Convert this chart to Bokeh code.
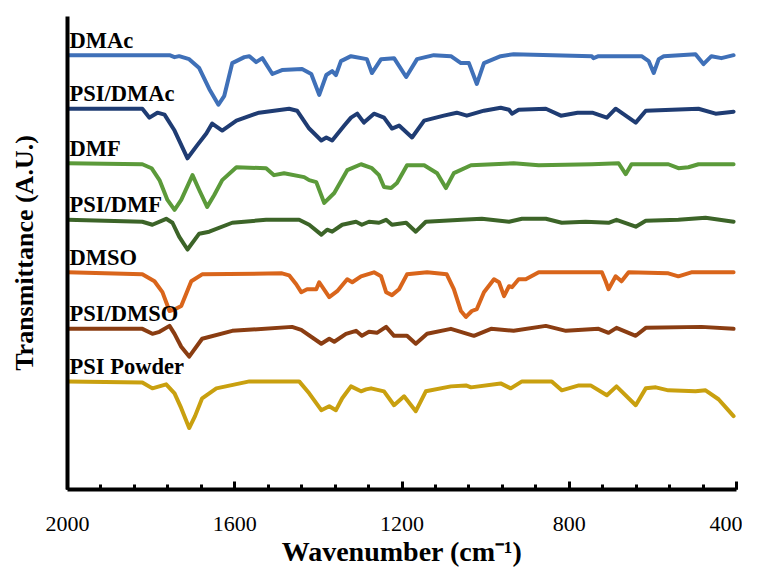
from bokeh.plotting import figure
from bokeh.models import Range1d, SingleIntervalTicker, FixedTicker, ColumnDataSource
from bokeh.core.properties import value
from bokeh.embed import file_html
from bokeh.resources import INLINE

# ---- data (wavenumber cm-1, transmittance in arbitrary units, offset stacked) ----
names = ["DMAc", "PSI/DMAc", "DMF", "PSI/DMF", "DMSO", "PSI/DMSO", "PSI Powder"]
colors = ["#3F70B8", "#1F3C73", "#5B9A3A", "#3C6428", "#D9651B", "#8A3D12", "#C9A00F"]

dmac_w = [2000, 1756, 1744, 1733, 1709, 1685, 1661, 1639, 1625, 1606, 1577, 1565, 1549, 1534, 1510, 1487, 1439, 1417, 1398, 1381, 1367, 1358, 1346, 1322, 1284, 1272, 1250, 1219, 1190, 1164, 1124, 1083, 1059, 1040, 1021, 1004, 964, 933, 746, 742, 730, 627, 610, 598, 586, 574, 498, 479, 460, 436, 407]
dmac_t = [438, 438, 436, 437, 434, 425, 404, 388, 397, 430, 436, 437, 431, 435, 419, 423, 424, 419, 398, 418, 422, 418, 432, 437, 434, 420, 434, 435, 416, 434, 438, 437, 430, 430, 409, 430, 437, 439, 437, 435, 437, 437, 432, 420, 434, 437, 439, 429, 437, 435, 438]

psidmac_w = [2000, 1821, 1804, 1785, 1768, 1744, 1713, 1690, 1668, 1654, 1630, 1596, 1542, 1470, 1451, 1422, 1393, 1381, 1367, 1338, 1322, 1307, 1291, 1267, 1243, 1224, 1207, 1176, 1147, 1100, 1069, 1045, 1004, 964, 944, 937, 921, 856, 820, 780, 745, 710, 689, 641, 617, 491, 450, 407]
psidmac_t = [384, 384, 375, 380, 378, 362, 334, 347, 359, 369, 362, 372, 380, 384, 382, 364, 352, 355, 352, 367, 375, 379, 370, 379, 375, 364, 367, 355, 372, 377, 380, 377, 382, 385, 383, 379, 383, 384, 377, 380, 380, 375, 384, 370, 382, 384, 379, 381]

dmf_w = [2000, 1821, 1799, 1780, 1761, 1744, 1728, 1701, 1685, 1666, 1649, 1630, 1596, 1525, 1506, 1482, 1434, 1422, 1405, 1386, 1362, 1331, 1298, 1272, 1255, 1243, 1226, 1212, 1188, 1147, 1116, 1095, 1076, 1035, 933, 873, 746, 682, 665, 651, 563, 539, 515, 491, 407]
dmf_t = [329, 328, 324, 312, 292, 282, 292, 317, 302, 285, 297, 312, 325, 324, 317, 319, 315, 312, 310, 289, 299, 322, 328, 324, 317, 305, 304, 309, 327, 327, 319, 304, 319, 327, 329, 327, 328, 329, 318, 328, 328, 324, 325, 328, 328]

psidmf_w = [2000, 1821, 1797, 1764, 1749, 1733, 1713, 1685, 1661, 1606, 1525, 1446, 1422, 1393, 1379, 1367, 1343, 1310, 1296, 1279, 1255, 1238, 1224, 1190, 1167, 1143, 1057, 1009, 944, 913, 856, 818, 761, 706, 687, 641, 617, 539, 474, 407]
psidmf_t = [272, 270, 267, 273, 269, 255, 242, 258, 260, 269, 272, 272, 267, 257, 262, 260, 267, 270, 267, 270, 269, 272, 267, 269, 260, 270, 272, 273, 270, 273, 273, 269, 270, 269, 272, 265, 271, 272, 274, 270]

dmso_w = [2000, 1821, 1792, 1773, 1756, 1742, 1728, 1704, 1678, 1487, 1470, 1453, 1441, 1427, 1405, 1398, 1374, 1355, 1331, 1319, 1298, 1267, 1250, 1238, 1224, 1207, 1188, 1140, 1093, 1076, 1059, 1047, 1033, 1021, 1004, 980, 968, 956, 944, 937, 921, 904, 873, 722, 713, 706, 689, 675, 658, 563, 539, 508, 407]
dmso_t = [219, 217, 210, 199, 180, 182, 185, 210, 217, 218, 216, 207, 199, 202, 202, 209, 194, 200, 212, 209, 215, 219, 215, 199, 196, 202, 217, 219, 217, 202, 180, 174, 180, 182, 199, 212, 209, 195, 205, 204, 212, 212, 219, 219, 210, 202, 215, 210, 219, 218, 215, 219, 219]

psidmso_w = [2000, 1821, 1797, 1780, 1756, 1744, 1728, 1709, 1678, 1606, 1463, 1441, 1393, 1374, 1362, 1334, 1310, 1296, 1279, 1260, 1238, 1219, 1188, 1167, 1140, 1083, 1028, 987, 933, 856, 808, 730, 706, 687, 641, 617, 484, 407]
psidmso_t = [162, 162, 157, 159, 165, 157, 144, 134, 152, 160, 164, 161, 147, 152, 149, 157, 160, 155, 159, 158, 164, 155, 155, 147, 157, 162, 155, 162, 160, 165, 160, 162, 158, 163, 155, 163, 164, 162]

psip_w = [2000, 1821, 1797, 1764, 1744, 1728, 1709, 1695, 1678, 1644, 1565, 1446, 1422, 1393, 1374, 1358, 1343, 1322, 1298, 1286, 1274, 1243, 1219, 1195, 1167, 1143, 1083, 1047, 1035, 964, 940, 913, 842, 818, 777, 749, 710, 687, 641, 617, 593, 563, 498, 474, 443, 424, 407]
psip_t = [109, 108, 102, 106, 97, 82, 62, 74, 92, 102, 109, 109, 97, 80, 84, 80, 92, 104, 99, 101, 102, 99, 85, 94, 79, 99, 104, 105, 103, 107, 102, 109, 109, 100, 105, 105, 95, 104, 85, 102, 103, 100, 99, 100, 91, 82, 74]

series_w = [dmac_w, psidmac_w, dmf_w, psidmf_w, dmso_w, psidmso_w, psip_w]
series_t = [dmac_t, psidmac_t, dmf_t, psidmf_t, dmso_t, psidmso_t, psip_t]

x_ticks_major = 400
label_font = "Liberation Serif"

p = figure(width=742, height=569, output_backend="svg", toolbar_location=None,
           x_range=Range1d(2000, 400), y_range=Range1d(0, 477),
           min_border_left=67, min_border_right=6, min_border_top=16, min_border_bottom=74)
p.background_fill_color = "white"
p.border_fill_color = "white"
p.outline_line_color = None
p.xgrid.visible = False
p.ygrid.visible = False

for w, t, c in zip(series_w, series_t, colors):
    p.line(w, t, line_color=c, line_width=4, line_join="round", line_cap="round")

# series labels just above each curve's starting level
lab_x = [1995] * len(names)
lab_y = [t[0] + 15 for t in series_t]
src = ColumnDataSource(dict(x=lab_x, y=lab_y, text=names))
p.text(x="x", y="y", text="text", source=src, text_font=value(label_font),
       text_font_style="bold", text_font_size="22.5px", text_baseline="middle",
       text_align="left", text_color="black")

# x axis
xa = p.xaxis[0]
xa.ticker = SingleIntervalTicker(interval=x_ticks_major, num_minor_ticks=5)
xa.axis_line_width = 4
xa.axis_line_color = "black"
xa.major_tick_in = 8
xa.major_tick_out = 0
xa.minor_tick_in = 5
xa.minor_tick_out = 0
xa.major_tick_line_width = 3
xa.minor_tick_line_width = 3
xa.major_tick_line_color = "black"
xa.minor_tick_line_color = "black"
xa.major_label_text_font = label_font
xa.major_label_text_font_size = "22px"
xa.major_label_text_color = "black"
xa.major_label_standoff = 27
xa.axis_label = "Wavenumber (cm\u207b\u00b9)"
xa.axis_label_text_font = label_font
xa.axis_label_text_font_style = "bold"
xa.axis_label_text_font_size = "28px"
xa.axis_label_text_color = "black"
xa.axis_label_standoff = 2

# y axis
ya = p.yaxis[0]
ya.ticker = FixedTicker(ticks=[])
ya.axis_line_width = 4
ya.axis_line_color = "black"
ya.major_tick_in = 0
ya.major_tick_out = 0
ya.minor_tick_in = 0
ya.minor_tick_out = 0
ya.major_label_text_font_size = "0px"
ya.axis_label = "Transmittance (A.U.)"
ya.axis_label_text_font = label_font
ya.axis_label_text_font_style = "bold"
ya.axis_label_text_font_size = "26px"
ya.axis_label_text_color = "black"
ya.axis_label_standoff = 29

open("out.html", "w").write(file_html(p, INLINE))
